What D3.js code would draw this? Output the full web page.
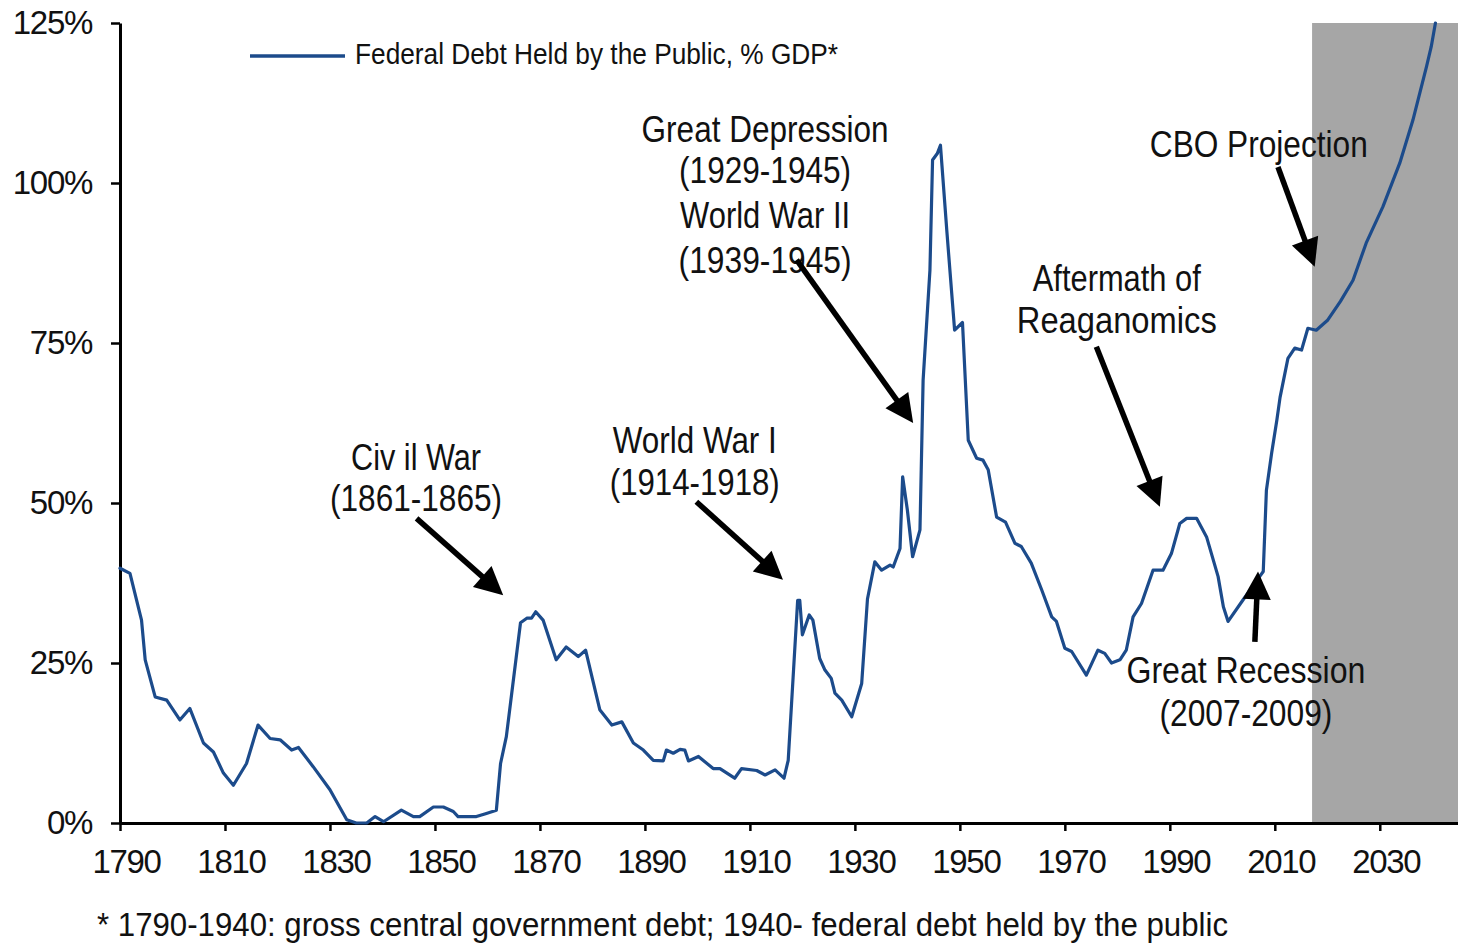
<!DOCTYPE html>
<html>
<head>
<meta charset="utf-8">
<script src="https://cdn.jsdelivr.net/npm/d3@7"></script>
<style>
  html, body { margin: 0; padding: 0; background: #fff; }
  svg { display: block; font-family: "Liberation Sans", Arial, sans-serif; }
</style>
</head>
<body>
<svg id="chart" width="1458" height="944"></svg>
<script>
// ---- Data ----
const years = [
  1790, 1791.9, 1794.1, 1794.8, 1796.7, 1798.9, 1801.4, 1803.3, 1805.9, 1807.8,
  1809.7, 1811.6, 1814.1, 1816.3, 1818.6, 1820.5, 1822.7, 1824.0, 1826.8, 1830,
  1833.2, 1835, 1837, 1838.6, 1840.2, 1843.6, 1845.9, 1847.1, 1849.7, 1851.6,
  1853.5, 1854.4, 1857.9, 1859.8, 1861.7, 1862.5, 1863.6, 1866.3, 1867.5, 1868.4,
  1869.2, 1870.6, 1873.1, 1875.0, 1877.3, 1878.7, 1881.4, 1883.7, 1885.6, 1887.8,
  1889.7, 1891.6, 1893.5, 1894.1, 1895.4, 1896.7, 1897.6, 1898.3, 1900.2, 1903.0,
  1904.3, 1907.1, 1908.4, 1911.3, 1912.9, 1914.8, 1916.5, 1917.3, 1919.1, 1919.5,
  1920.0, 1921.3, 1922.0, 1923.3, 1924.3, 1925.5, 1926.2, 1927.5, 1929.4, 1931.3,
  1932.4, 1933.8, 1935.1, 1936.7, 1937.3, 1938.6, 1939.1, 1940.0, 1941.0, 1942.4,
  1943.0, 1944.3, 1944.8, 1945.7, 1946.3, 1947.5, 1949.0, 1950.5, 1951.6, 1953.2,
  1954.4, 1955.4, 1957.0, 1958.7, 1960.5, 1961.7, 1963.6, 1965.6, 1967.5, 1968.4,
  1970.0, 1971.3, 1974.1, 1976.3, 1977.6, 1978.9, 1980.5, 1981.7, 1983.0, 1984.6,
  1986.8, 1988.7, 1990.3, 1991.9, 1993.2, 1995.1, 1997.0, 1999.2, 2000.2, 2001.1,
  2003.9, 2007.1, 2007.8, 2008.4, 2009.4, 2010.4, 2011.0, 2012.5, 2013.8, 2015.1,
  2016.3, 2017.9, 2020.1, 2022.5, 2024.9, 2027.4, 2030.6, 2033.8, 2036.3, 2038.9,
  2039.8, 2040.6
];
const debtPctGDP = [
  39.8, 39.0, 31.7, 25.5, 19.7, 19.2, 16.1, 17.9, 12.5, 11.1,
  7.8, 5.9, 9.3, 15.3, 13.2, 13.0, 11.4, 11.8, 8.8, 5.2,
  0.5, 0.0, 0.0, 1.0, 0.2, 2.0, 1.0, 1.0, 2.5, 2.5,
  1.8, 1.0, 1.0, 1.5, 2.0, 9.3, 13.5, 31.3, 32.0, 32.0,
  33.0, 31.7, 25.5, 27.5, 26.0, 27.0, 17.7, 15.3, 15.8, 12.5,
  11.4, 9.8, 9.7, 11.4, 10.9, 11.5, 11.4, 9.7, 10.4, 8.5,
  8.5, 7.0, 8.5, 8.2, 7.5, 8.3, 7.0, 9.8, 34.8, 34.8,
  29.4, 32.5, 31.7, 25.7, 23.9, 22.6, 20.3, 19.2, 16.6, 21.8,
  35.0, 40.8, 39.5, 40.3, 40.0, 42.9, 54.1, 48.9, 41.6, 45.8,
  69.2, 86.4, 103.6, 104.6, 105.9, 92.7, 77.0, 78.2, 59.8, 57.0,
  56.7, 55.2, 47.8, 47.0, 43.7, 43.2, 40.6, 36.4, 32.2, 31.5,
  27.3, 26.8, 23.1, 27.0, 26.5, 25.0, 25.5, 27.0, 32.2, 34.3,
  39.5, 39.5, 42.1, 46.8, 47.6, 47.6, 44.7, 38.5, 33.8, 31.5,
  34.8, 38.5, 39.3, 52.0, 57.8, 63.0, 66.5, 72.6, 74.2, 73.9,
  77.3, 77.0, 78.6, 81.5, 84.8, 90.6, 96.3, 103.1, 109.8, 118.2,
  121.3, 125.0
];
const xTickYears = [1790, 1810, 1830, 1850, 1870, 1890, 1910, 1930, 1950, 1970, 1990, 2010, 2030];
const yTickValues = [0, 25, 50, 75, 100, 125];
const projectionStartYear = 2017.1;
const seriesName = "Federal Debt Held by the Public, % GDP*";
const footnote = "* 1790-1940: gross central government debt; 1940- federal debt held by the public";
const annotationLabels = [
  ["Civ il War", "(1861-1865)"],
  ["World War I", "(1914-1918)"],
  ["Great Depression", "(1929-1945)", "World War II", "(1939-1945)"],
  ["Aftermath of", "Reaganomics"],
  ["CBO Projection"],
  ["Great Recession", "(2007-2009)"]
];

// ---- Layout ----
const svg = d3.select("#chart");
const x = d3.scaleLinear().domain([1790, 2044.9]).range([120, 1458]);
const y = d3.scaleLinear().domain([0, 125]).range([823, 23]);
const blue = "#1c4b8b";

// projection shading
svg.append("rect")
  .attr("x", x(projectionStartYear))
  .attr("y", y(125))
  .attr("width", x(2044.9) - x(projectionStartYear))
  .attr("height", y(0) - y(125))
  .attr("fill", "#a6a6a6");

// axes
const yAxis = d3.axisLeft(y).tickValues(yTickValues).tickFormat(d => d + "%")
  .tickSize(9).tickSizeOuter(0).tickPadding(19);
const gy = svg.append("g").attr("transform", `translate(${x(1790)},0)`).call(yAxis);
gy.select(".domain").attr("stroke", "#000").attr("stroke-width", 3);
gy.selectAll(".tick line").attr("stroke", "#000").attr("stroke-width", 2.5);
gy.selectAll(".tick text").attr("font-size", 33).attr("letter-spacing", "-1.3px")
  .attr("fill", "#111").attr("font-family", "Liberation Sans, Arial, sans-serif");

const xAxis = d3.axisBottom(x).tickValues(xTickYears).tickFormat(d3.format("d"))
  .tickSize(8).tickSizeOuter(0).tickPadding(19);
const gx = svg.append("g").attr("transform", `translate(0,${y(0)})`).call(xAxis);
gx.select(".domain").attr("stroke", "#000").attr("stroke-width", 3);
gx.selectAll(".tick line").attr("stroke", "#000").attr("stroke-width", 2.5);
gx.selectAll(".tick text").attr("font-size", 33).attr("letter-spacing", "-1.3px")
  .attr("dx", 6).attr("fill", "#111").attr("font-family", "Liberation Sans, Arial, sans-serif");

// line
const series = years.map((yr, i) => ({ yr, v: debtPctGDP[i] }));
const line = d3.line().x(d => x(d.yr)).y(d => y(d.v));
svg.append("path")
  .datum(series)
  .attr("d", line)
  .attr("fill", "none")
  .attr("stroke", blue)
  .attr("stroke-width", 3.2)
  .attr("stroke-linejoin", "round")
  .attr("stroke-linecap", "round");

// legend
svg.append("line")
  .attr("x1", 250).attr("x2", 345).attr("y1", 56).attr("y2", 56)
  .attr("stroke", blue).attr("stroke-width", 3.5);
svg.append("text")
  .attr("x", 355).attr("y", 64)
  .attr("font-size", 30)
  .attr("fill", "#111")
  .attr("textLength", 483).attr("lengthAdjust", "spacingAndGlyphs")
  .text(seriesName);

// footnote
svg.append("text")
  .attr("x", 97).attr("y", 936)
  .attr("font-size", 34)
  .attr("fill", "#111")
  .attr("textLength", 1131).attr("lengthAdjust", "spacingAndGlyphs")
  .text(footnote);

// annotations: text anchors and arrows in data coordinates
const annLayout = [
  { cx: 1846.4, base: [55.2, 48.75], w: [130, 172], arrow: [[1846.5, 47.6], [1863.0, 35.6]] },
  { cx: 1899.5, base: [57.8, 51.25], w: [164, 170], arrow: [[1899.8, 50.2], [1916.3, 38.0]] },
  { cx: 1912.9, base: [106.4, 100.0, 92.97, 85.94], w: [247, 172, 170, 173], arrow: [[1918.9, 88.0], [1941.1, 62.5]] },
  { cx: 1979.9, base: [83.1, 76.6], w: [168, 200], arrow: [[1976.0, 74.4], [1988.1, 49.4]] },
  { cx: 2006.95, base: [104.1], w: [218], arrow: [[2010.6, 102.5], [2017.6, 86.9]] },
  { cx: 2004.5, base: [21.9, 15.2], w: [239, 173], arrow: [[2006.2, 28.3], [2006.8, 39.3]] }
];

function drawArrow(p0, p1) {
  const x0 = x(p0[0]), y0 = y(p0[1]), x1 = x(p1[0]), y1 = y(p1[1]);
  const dx = x1 - x0, dy = y1 - y0, len = Math.hypot(dx, dy);
  const ux = dx / len, uy = dy / len;
  const headLen = 28, headHalf = 14;
  const bx = x1 - ux * headLen, by = y1 - uy * headLen;
  svg.append("line")
    .attr("x1", x0).attr("y1", y0).attr("x2", bx + ux * 2).attr("y2", by + uy * 2)
    .attr("stroke", "#000").attr("stroke-width", 5.5);
  const px = -uy, py = ux;
  svg.append("path")
    .attr("d", `M${x1},${y1} L${bx + px * headHalf},${by + py * headHalf} L${bx - px * headHalf},${by - py * headHalf} Z`)
    .attr("fill", "#000");
}

annLayout.forEach((a, i) => {
  annotationLabels[i].forEach((txt, j) => {
    svg.append("text")
      .attr("x", x(a.cx)).attr("y", y(a.base[j]))
      .attr("text-anchor", "middle")
      .attr("font-size", 36)
      .attr("fill", "#111")
      .attr("textLength", a.w[j]).attr("lengthAdjust", "spacingAndGlyphs")
      .text(txt);
  });
  drawArrow(a.arrow[0], a.arrow[1]);
});
</script>
</body>
</html>
